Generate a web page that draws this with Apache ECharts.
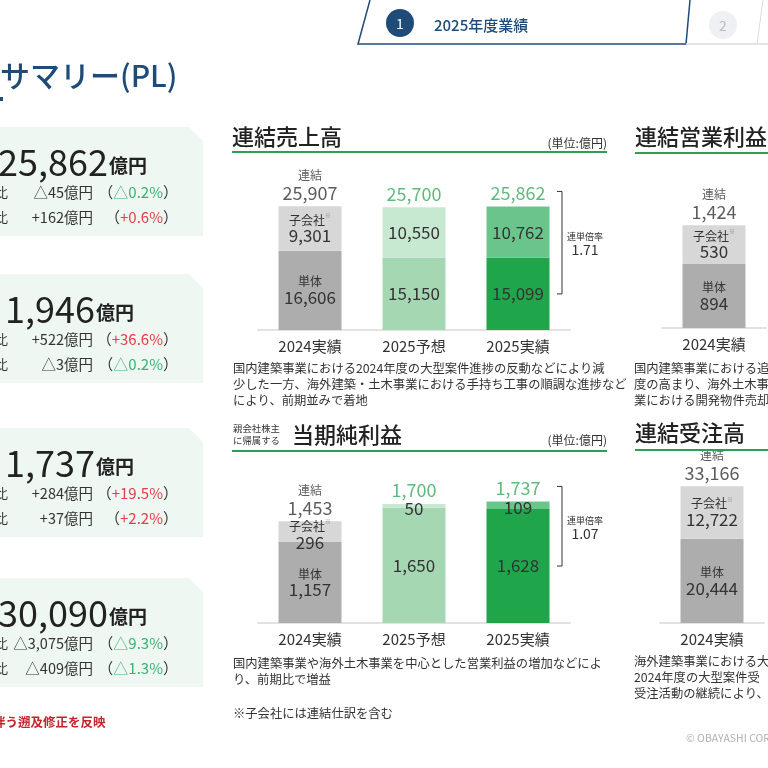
<!DOCTYPE html>
<html>
<head>
<meta charset="utf-8">
<script src="https://cdn.jsdelivr.net/npm/echarts@6/dist/echarts.min.js"></script>
<style>
  html, body { margin: 0; padding: 0; background: #fff; }
  #main { width: 768px; height: 768px; }
</style>
</head>
<body>
<div id="main"></div>
<script>
// --- données ---
const categories = ['2024実績', '2025予想', '2025実績'];
const salesParent = [16606, 15150, 15099];
const salesSubs = [9301, 10550, 10762];
const salesTotal = [25907, 25700, 25862];
const netParent = [1157, 1650, 1628];
const netSubs = [296, 50, 109];
const netTotal = [1453, 1700, 1737];
const opParent = [894];
const opSubs = [530];
const opTotal = [1424];
const orderParent = [20444];
const orderSubs = [12722];
const orderTotal = [33166];
const ratioSales = '1.71';
const ratioNet = '1.07';

const summaryValues = ['25,862', '1,946', '1,737', '30,090'];
const summaryDiffPrev = ['△45億円', '+522億円', '+284億円', '△3,075億円'];
const summaryPctPrev = ['△0.2%', '+36.6%', '+19.5%', '△9.3%'];
const summaryDiffPlan = ['+162億円', '△3億円', '+37億円', '△409億円'];
const summaryPctPlan = ['+0.6%', '△0.2%', '+2.2%', '△1.3%'];

const FONT = "'Noto Sans CJK JP', 'Noto Sans', sans-serif";
const NAVY = '#1f4b78';
const GREEN = '#3aa85e';
const TXT = '#333';
const bottomColors = ['#adadad', '#a5d7b3', '#1fa64a'];
const topColors = ['#d7d7d7', '#c8e9d1', '#69c58a'];

const fmt = v => Number(v).toLocaleString('en-US');

const rich = {
    k: { fontFamily: FONT, fontSize: 12, color: TXT, lineHeight: 15 },
    s: { fontFamily: FONT, fontSize: 6, color: '#888', verticalAlign: 'top', lineHeight: 15 },
    v: { fontFamily: FONT, fontSize: 17, color: TXT, lineHeight: 17 },
    t: { fontFamily: FONT, fontSize: 18, color: TXT, lineHeight: 20 },
    g: { fontFamily: FONT, fontSize: 18, color: GREEN, lineHeight: 20 }
};

function makeBars(gi, parent, subs, total, subOffsets) {
    const stack = 'st' + gi;
    return [
        {
            type: 'bar', xAxisIndex: gi, yAxisIndex: gi, stack, barWidth: 63, silent: true,
            data: parent.map((v, i) => ({ value: v, itemStyle: { color: bottomColors[i] } })),
            label: {
                show: true, position: 'inside', rich,
                formatter: p => p.dataIndex === 0 ? '{k|単体}\n{v|' + fmt(p.value) + '}' : '{v|' + fmt(p.value) + '}'
            }
        },
        {
            type: 'bar', xAxisIndex: gi, yAxisIndex: gi, stack, barWidth: 63, silent: true,
            data: subs.map((v, i) => ({
                value: v, itemStyle: { color: topColors[i] },
                label: { offset: (subOffsets && subOffsets[i]) || [0, 0] }
            })),
            label: {
                show: true, position: 'inside', rich,
                formatter: p => p.dataIndex === 0 ? '{k|子会社}{s|※}\n{v|' + fmt(p.value) + '}' : '{v|' + fmt(p.value) + '}'
            }
        },
        {
            type: 'scatter', xAxisIndex: gi, yAxisIndex: gi, symbolSize: 1, silent: true,
            itemStyle: { color: 'transparent' },
            data: total,
            label: {
                show: true, position: 'top', distance: 3, rich,
                formatter: p => p.dataIndex === 0 ? '{k|連結}\n{t|' + fmt(p.value) + '}' : '{g|' + fmt(p.value) + '}'
            }
        }
    ];
}

// les deux graphiques de droite sont coupés par le bord : une seule catégorie visible
const grids = [
    { left: 258, top: 158, width: 312, height: 172 },
    { left: 258, top: 455, width: 312, height: 168 },
    { left: 662, top: 155, width: 104, height: 173 },
    { left: 660, top: 458, width: 104, height: 165 }
];
const gridCats = [categories, categories, categories.slice(0, 1), categories.slice(0, 1)];
const yMax = [36000, 2400, 2400, 40000];

const option = {
    animation: false,
    backgroundColor: '#fff',
    grid: grids,
    xAxis: grids.map((g, i) => ({
        type: 'category', gridIndex: i, data: gridCats[i],
        axisLine: { lineStyle: { color: '#e2e2e2', width: 2 } },
        axisTick: { show: false },
        axisLabel: { fontFamily: FONT, fontSize: 15, color: TXT, margin: 9 }
    })),
    yAxis: grids.map((g, i) => ({
        type: 'value', gridIndex: i, min: 0, max: yMax[i], show: false
    })),
    series: [
        ...makeBars(0, salesParent, salesSubs, salesTotal),
        ...makeBars(1, netParent, netSubs, netTotal, [[0, 3], [0, 3], [0, 2]]),
        ...makeBars(2, opParent, opSubs, opTotal),
        ...makeBars(3, orderParent, orderSubs, orderTotal)
    ]
};

const chart = echarts.init(document.getElementById('main'));
chart.setOption(option);

// --- décor ---
function txt(x, y, text, size, color, extra) {
    return {
        type: 'text', silent: true, z: 10,
        style: Object.assign({
            x, y, text, fontFamily: FONT, fontSize: size, fill: color,
            align: 'left', verticalAlign: 'middle'
        }, extra || {})
    };
}
function line(x1, y1, x2, y2, color, w) {
    return { type: 'line', silent: true, z: 10, shape: { x1, y1, x2, y2 }, style: { stroke: color, lineWidth: w } };
}

const g = [];

// onglets du haut
g.push({ type: 'polyline', silent: true, shape: { points: [[370, 0], [358, 44], [686, 44], [690, 0]] }, style: { stroke: NAVY, lineWidth: 1.5, fill: null } });
g.push(line(686, 44, 768, 44, '#dcdcdc', 1.5));
g.push(line(763, 0, 757, 44, '#dcdcdc', 1));
g.push({ type: 'circle', silent: true, shape: { cx: 400, cy: 23, r: 14 }, style: { fill: NAVY } });
g.push(txt(400, 24, '1', 14, '#fff', { align: 'center' }));
g.push(txt(434, 25, '2025年度業績', 15, NAVY, { fontWeight: 500 }));
g.push({ type: 'circle', silent: true, shape: { cx: 723, cy: 25, r: 14 }, style: { fill: '#eef0f3' } });
g.push(txt(723, 26, '2', 14, '#b8bcc4', { align: 'center' }));

// titre
g.push(txt(0, 76, 'サマリー(PL)', 30, NAVY, { fontWeight: 500 }));
g.push({ type: 'rect', silent: true, shape: { x: 0, y: 97, width: 3, height: 4 }, style: { fill: NAVY } });

// panneaux de synthèse
const panelTops = [127, 274, 428, 578];
const numRight = [108, 95, 95, 108];
const pctColor = s => s.charAt(0) === '△' ? '#3bb273' : '#e0404a';
panelTops.forEach((t, i) => {
    g.push({
        type: 'polygon', silent: true,
        shape: { points: [[-5, t], [189, t], [203, t + 14], [203, t + 109], [-5, t + 109]] },
        style: { fill: '#eff7f2' }
    });
    g.push(txt(numRight[i], t + 35, summaryValues[i], 36, '#222', { align: 'right' }));
    g.push(txt(numRight[i] + 1, t + 39, '億円', 19, '#222', { fontWeight: 'bold' }));
    [[summaryDiffPrev, summaryPctPrev, '前年比', 65], [summaryDiffPlan, summaryPctPlan, '予想比', 90]].forEach(r => {
        g.push(txt(8, t + r[3], r[2], 13, TXT, { align: 'right' }));
        g.push(txt(93, t + r[3], r[0][i], 14.5, TXT, { align: 'right' }));
        g.push({
            type: 'text', silent: true, z: 10,
            style: {
                x: 178, y: t + r[3], align: 'right', verticalAlign: 'middle',
                text: '{p|（}{c|' + r[1][i] + '}{p|）}',
                rich: {
                    p: { fontFamily: FONT, fontSize: 15, fill: TXT },
                    c: { fontFamily: FONT, fontSize: 15, fill: pctColor(r[1][i]) }
                }
            }
        });
    });
});
g.push(txt(-7, 722, '伴う遡及修正を反映', 12.5, '#c3262c', { fontWeight: 'bold' }));

// titres des graphiques
g.push(txt(232, 137, '連結売上高', 22, '#222', { fontWeight: 500 }));
g.push(txt(607, 143, '(単位:億円)', 12, TXT, { align: 'right' }));
g.push(line(232, 152, 607, 152, '#2f9e55', 2));
g.push(txt(233, 428, '親会社株主', 9.4, TXT));
g.push(txt(233, 440, 'に帰属する', 9.4, TXT));
g.push(txt(292, 435, '当期純利益', 22, '#222', { fontWeight: 500 }));
g.push(txt(607, 440, '(単位:億円)', 12, TXT, { align: 'right' }));
g.push(line(232, 451, 607, 451, '#2f9e55', 2));
g.push(txt(635, 137, '連結営業利益', 22, '#222', { fontWeight: 500 }));
g.push(line(635, 153, 770, 153, '#2f9e55', 2));
g.push(txt(635, 433, '連結受注高', 22, '#222', { fontWeight: 500 }));
g.push(line(635, 450, 770, 450, '#2f9e55', 2));

// commentaires
const para = (x, y, text) => txt(x, y, text, 12.3, TXT, { verticalAlign: 'top', lineHeight: 16 });
g.push(para(233, 360, '国内建築事業における2024年度の大型案件進捗の反動などにより減\n少した一方、海外建築・土木事業における手持ち工事の順調な進捗など\nにより、前期並みで着地'));
g.push(para(233, 655, '国内建築事業や海外土木事業を中心とした営業利益の増加などによ\nり、前期比で増益'));
g.push(para(233, 705, '※子会社には連結仕訳を含む'));
g.push(para(634, 360, '国内建築事業における追\n度の高まり、海外土木事業\n業における開発物件売却'));
g.push(para(634, 653, '海外建築事業における大\n2024年度の大型案件受\n受注活動の継続により、前'));
g.push(txt(686, 738, '© OBAYASHI CORPORATION', 10.5, '#b0b0b0'));

// crochets « 連単倍率 »
function bracket(gi, total, parent, ratio) {
    const top = chart.convertToPixel({ gridIndex: gi }, [2, total]);
    const bot = chart.convertToPixel({ gridIndex: gi }, [2, parent / 2]);
    const x = top[0] + 44;
    const y1 = top[1] - 15;
    const y2 = bot[1];
    g.push({ type: 'polyline', silent: true, shape: { points: [[x - 5, y1], [x, y1], [x, y2], [x - 5, y2]] }, style: { stroke: TXT, lineWidth: 1, fill: null } });
    const mid = (y1 + y2) / 2;
    g.push(txt(x + 23, mid - 6, '連単倍率', 9, TXT, { align: 'center' }));
    g.push(txt(x + 23, mid + 7, ratio, 14, TXT, { align: 'center' }));
}
bracket(0, salesTotal[2], salesParent[2], ratioSales);
bracket(1, netTotal[2], netParent[2], ratioNet);

chart.setOption({ graphic: g });

window.addEventListener('resize', () => {
    chart.resize();
});
</script>
</body>
</html>
